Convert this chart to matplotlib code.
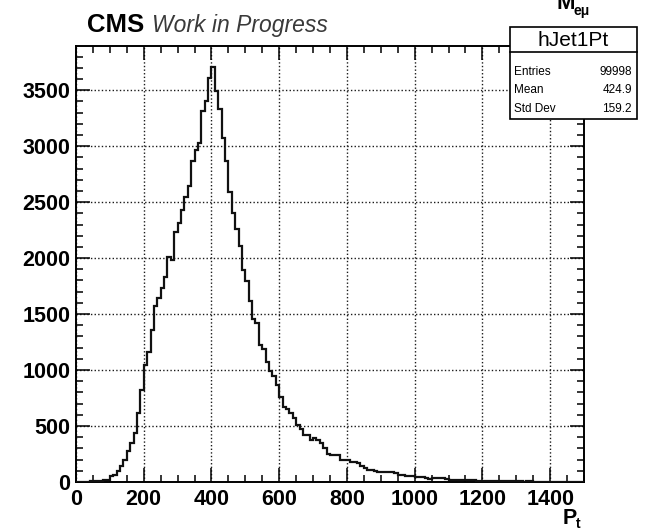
import matplotlib
matplotlib.use('Agg')
import matplotlib.pyplot as plt
import numpy as np
from matplotlib.patches import Rectangle
from matplotlib.lines import Line2D
from matplotlib.ticker import MultipleLocator

# ---- data (histogram hJet1Pt, 150 bins of width 10 from 0 to 1500) ----
x_min = 0
x_max = 1500
bin_width = 10
counts = [
    0, 0, 0, 0, 5, 8, 8, 10, 14, 20,
    50, 65, 95, 140, 200, 275, 350, 440, 620, 820,
    1045, 1165, 1360, 1568, 1643, 1732, 1831, 2010, 1986, 2230,
    2314, 2430, 2545, 2648, 2865, 2964, 3029, 3312, 3402, 3611,
    3709, 3491, 3334, 3074, 2865, 2590, 2405, 2257, 2105, 1890,
    1792, 1620, 1460, 1419, 1225, 1185, 1070, 995, 945, 868,
    760, 668, 650, 614, 570, 510, 471, 420, 420, 376,
    391, 376, 346, 301, 250, 241, 241, 241, 197, 197,
    197, 182, 175, 167, 146, 122, 110, 107, 100, 92,
    92, 90, 92, 85, 78, 65, 63, 58, 54, 54,
    45, 42, 42, 40, 24, 33, 33, 33, 36, 24,
    20, 18, 18, 16, 18, 17, 15, 16, 9, 8,
    9, 7, 9, 8, 7, 6, 8, 7, 6, 6,
    5, 5, 4, 6, 5, 3, 0, 4, 2, 3,
    0, 2, 0, 0, 2, 3, 0, 2, 0, 0,
]
x_ticks = [0, 200, 400, 600, 800, 1000, 1200, 1400]
y_ticks = [0, 500, 1000, 1500, 2000, 2500, 3000, 3500]
stats_title = "hJet1Pt"
stats_labels = ["Entries", "Mean", "Std Dev"]
stats_values = ["99998", "424.9", "159.2"]

plt.rcParams['font.family'] = ['Liberation Sans', 'DejaVu Sans']

W, H = 647, 531
fig = plt.figure(figsize=(W / 100, H / 100), dpi=100)
fig.patch.set_facecolor('white')

def fx(px):
    return px / W

def fy(py):
    return 1 - py / H

ax_l, ax_r, ax_t, ax_b = 76, 584, 46, 482
ax = fig.add_axes([fx(ax_l), fy(ax_b), fx(ax_r) - fx(ax_l), fy(ax_t) - fy(ax_b)])

edges = np.arange(x_min, x_max + bin_width, bin_width)
ax.stairs(counts, edges, baseline=0, color='#111111', linewidth=1.6, zorder=3)

ymax = max(counts) * 1.05
ax.set_xlim(x_min, x_max)
ax.set_ylim(0, ymax)

ax.set_xticks(x_ticks)
ax.set_yticks(y_ticks)
ax.xaxis.set_minor_locator(MultipleLocator(50))
ax.yaxis.set_minor_locator(MultipleLocator(100))
ax.tick_params(which='both', direction='in', top=True, right=True, width=1.1, color='black')
ax.tick_params(which='major', length=10)
ax.tick_params(which='minor', length=5)
ax.tick_params(axis='x', which='major', pad=5)
ax.tick_params(axis='y', which='major', pad=4)
for lab in ax.get_xticklabels() + ax.get_yticklabels():
    lab.set_fontsize(15.5)
    lab.set_fontweight('bold')

for sp in ax.spines.values():
    sp.set_linewidth(1.4)
    sp.set_color('black')

ax.grid(True, which='major', linestyle=(0, (1, 1.6)), color='#1a1a1a', linewidth=1.0, zorder=1)
ax.set_axisbelow(True)

# axis title P_t
fig.text(fx(563), fy(524), "P", fontsize=15.5, fontweight='bold', ha='left', va='baseline')
fig.text(fx(576), fy(528), "t", fontsize=10, fontweight='bold', ha='left', va='baseline')

# cut-off title at top right
fig.text(fx(556), fy(9), "M", fontsize=16, fontweight='bold', ha='left', va='baseline')
fig.text(fx(574), fy(15), "eμ", fontsize=10, fontweight='bold', ha='left', va='baseline')

# CMS label
fig.text(fx(87), fy(32), "CMS", fontsize=18.5, fontweight='bold', ha='left', va='baseline', color='black')
fig.text(fx(152), fy(32), "Work in Progress", fontsize=16.5, style='italic', ha='left', va='baseline', color='#3a3a3a')

# stats box
bx_l, bx_r, bx_t, bx_b, bx_h = 510, 637, 27, 119, 52
box = Rectangle((fx(bx_l), fy(bx_b)), fx(bx_r) - fx(bx_l), fy(bx_t) - fy(bx_b),
                transform=fig.transFigure, facecolor='white', edgecolor='black', linewidth=1.2, zorder=10)
fig.add_artist(box)
fig.add_artist(Line2D([fx(bx_l), fx(bx_r)], [fy(bx_h), fy(bx_h)], transform=fig.transFigure,
                      color='black', linewidth=1.2, zorder=11))
fig.text(fx((bx_l + bx_r) / 2), fy(40), stats_title, fontsize=15, ha='center', va='center', zorder=12)
row_y = [72, 90, 109]
for lab, val, ry in zip(stats_labels, stats_values, row_y):
    fig.text(fx(514), fy(ry), lab, fontsize=8.5, ha='left', va='center', zorder=12)
    fig.text(fx(632), fy(ry), val, fontsize=8.5, ha='right', va='center', zorder=12)

fig.savefig('out.png', dpi=100, facecolor='white')
